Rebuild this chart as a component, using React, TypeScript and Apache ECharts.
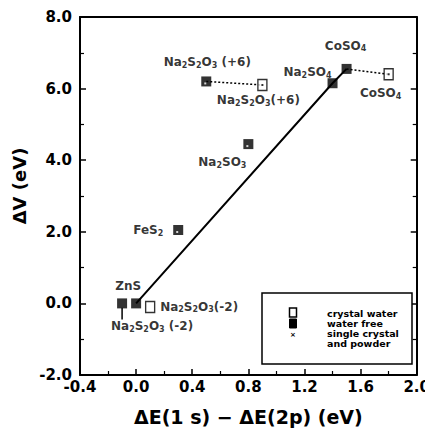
import React, { useEffect, useRef } from "react";
import * as echarts from "echarts";

// ---- data ----
const waterFreeNames = ["Na2S2O3 (-2)", "ZnS", "FeS2", "Na2SO3", "Na2S2O3 (+6)", "Na2SO4", "CoSO4"];
const waterFreeX = [-0.1, 0.0, 0.3, 0.8, 0.5, 1.4, 1.5];
const waterFreeY = [0.0, 0.0, 2.05, 4.45, 6.2, 6.15, 6.55];

const crystalWaterNames = ["Na2S2O3(-2)", "Na2S2O3(+6)", "CoSO4"];
const crystalWaterX = [0.1, 0.9, 1.8];
const crystalWaterY = [-0.1, 6.1, 6.4];

// points that carry the small "single crystal and powder" mark
const singleOnFreeX = [0.3, 0.8, 0.5];
const singleOnFreeY = [2.05, 4.45, 6.2];
const singleOnWaterX = [0.9, 1.8];
const singleOnWaterY = [6.1, 6.4];

const fitLineX = [0.0, 1.4, 1.5];
const fitLineY = [0.0, 6.15, 6.55];

const tieNa2S2O3X = [0.5, 0.9];
const tieNa2S2O3Y = [6.2, 6.1];
const tieCoSO4X = [1.5, 1.8];
const tieCoSO4Y = [6.55, 6.4];

const leaderX = [-0.1, -0.1];
const leaderY = [-0.12, -0.45];

const xTicks = { min: -0.4, max: 2.0, step: 0.4 };
const yTicks = { min: -2, max: 8, step: 2 };

const legendTexts = ["crystal water", "water free", "single crystal", "and powder"];

// ---- styles (kept separate from data) ----
const FONT = "DejaVu Sans";
const freeLabelOffsets: [number, number][] = [
  [30, 23],
  [-8, -17],
  [-30, 0],
  [-26, 18],
  [1, -19],
  [-25, -11],
  [-1, -23],
];
const waterLabelOffsets: [number, number][] = [
  [49, 0],
  [-4, 15],
  [-8, 19],
];

const zip = (xs: number[], ys: number[]) => xs.map((x, i) => [x, ys[i]]);
const toRich = (s: string) => s.replace(/([A-Za-z])(\d)/g, "$1{s|$2}");

const richStyle = {
  s: { fontSize: 8, fontWeight: "bold", fontFamily: FONT, color: "#000", verticalAlign: "bottom", padding: [6, 0, 0, 0] },
};

function labelFor(name: string, offset: [number, number]) {
  return {
    show: true,
    position: "inside",
    offset,
    formatter: toRich(name),
    color: "#000",
    fontSize: 12,
    fontWeight: "bold",
    fontFamily: FONT,
    rich: richStyle,
  };
}

export default function App() {
  const ref = useRef<HTMLDivElement>(null);

  useEffect(() => {
    if (!ref.current) return;
    const chart = echarts.init(ref.current, undefined, { renderer: "svg" });

    const axisCommon = {
      type: "value" as const,
      axisLine: { show: true, onZero: false, lineStyle: { color: "#000", width: 2 } },
      splitLine: { show: false },
    };
    const majorTick = { show: true, inside: true, length: 6, lineStyle: { color: "#000", width: 1.5 } };
    const minorTick = { show: true, splitNumber: 2, length: 4, lineStyle: { color: "#000", width: 1.2 } };

    const option: any = {
      animation: false,
      backgroundColor: "#fff",
      grid: { left: 80, right: 14, top: 17, bottom: 61 },
      xAxis: [
        {
          ...axisCommon,
          position: "bottom",
          min: xTicks.min,
          max: xTicks.max,
          interval: xTicks.step,
          axisTick: majorTick,
          minorTick,
          axisLabel: {
            color: "#000",
            fontSize: 15,
            fontWeight: "bold",
            fontFamily: FONT,
            margin: 4,
            formatter: (v: number) => v.toFixed(1),
          },
          name: "ΔE(1 s) − ΔE(2p) (eV)",
          nameLocation: "middle",
          nameGap: 32,
          nameTextStyle: { color: "#000", fontSize: 19, fontWeight: "bold", fontFamily: FONT },
        },
        {
          ...axisCommon,
          position: "top",
          min: xTicks.min,
          max: xTicks.max,
          interval: xTicks.step,
          axisTick: { show: false },
          axisLabel: { show: false },
        },
      ],
      yAxis: [
        {
          ...axisCommon,
          position: "left",
          min: yTicks.min,
          max: yTicks.max,
          interval: yTicks.step,
          axisTick: majorTick,
          minorTick,
          axisLabel: {
            color: "#000",
            fontSize: 15,
            fontWeight: "bold",
            fontFamily: FONT,
            margin: 8,
            formatter: (v: number) => v.toFixed(1),
          },
          name: "ΔV (eV)",
          nameLocation: "middle",
          nameRotate: 90,
          nameGap: 44,
          nameTextStyle: {
            color: "#000",
            fontSize: 18,
            fontWeight: "bold",
            fontFamily: FONT,
            padding: [0, 0, 0, 20],
          },
        },
        {
          ...axisCommon,
          position: "right",
          min: yTicks.min,
          max: yTicks.max,
          interval: yTicks.step,
          axisTick: majorTick,
          minorTick,
          axisLabel: { show: false },
        },
      ],
      series: [
        {
          name: "fit",
          type: "line",
          data: zip(fitLineX, fitLineY),
          symbol: "none",
          lineStyle: { color: "#000", width: 2 },
          z: 2,
        },
        {
          name: "tie Na2S2O3",
          type: "line",
          data: zip(tieNa2S2O3X, tieNa2S2O3Y),
          symbol: "none",
          lineStyle: { color: "#000", width: 1.5, type: [2, 2] },
          z: 2,
        },
        {
          name: "tie CoSO4",
          type: "line",
          data: zip(tieCoSO4X, tieCoSO4Y),
          symbol: "none",
          lineStyle: { color: "#000", width: 1.5, type: [2, 2] },
          z: 2,
        },
        {
          name: "leader",
          type: "line",
          data: zip(leaderX, leaderY),
          symbol: "none",
          lineStyle: { color: "#000", width: 1.5 },
          z: 2,
        },
        {
          name: "water free",
          type: "scatter",
          symbol: "rect",
          symbolSize: [10, 10],
          itemStyle: { color: "#000" },
          data: waterFreeX.map((x, i) => ({
            value: [x, waterFreeY[i]],
            name: waterFreeNames[i],
            label: labelFor(waterFreeNames[i], freeLabelOffsets[i]),
          })),
          z: 5,
        },
        {
          name: "crystal water",
          type: "scatter",
          symbol: "rect",
          symbolSize: [9, 11],
          itemStyle: { color: "#fff", borderColor: "#000", borderWidth: 1.5 },
          data: crystalWaterX.map((x, i) => ({
            value: [x, crystalWaterY[i]],
            name: crystalWaterNames[i],
            label: labelFor(crystalWaterNames[i], waterLabelOffsets[i]),
          })),
          z: 5,
        },
        {
          name: "single crystal and powder (on water free)",
          type: "scatter",
          symbol: "rect",
          symbolSize: 2,
          symbolOffset: [-1, 2],
          itemStyle: { color: "#fff" },
          data: zip(singleOnFreeX, singleOnFreeY),
          z: 6,
        },
        {
          name: "single crystal and powder (on crystal water)",
          type: "scatter",
          symbol: "rect",
          symbolSize: 2,
          itemStyle: { color: "#000" },
          data: zip(singleOnWaterX, singleOnWaterY),
          z: 6,
        },
      ],
      graphic: [
        {
          type: "rect",
          shape: { x: 262, y: 293, width: 150, height: 71 },
          style: { fill: "#fff", stroke: "#000", lineWidth: 1.5 },
          z: 10,
        },
        {
          type: "rect",
          shape: { x: 289.5, y: 308, width: 7, height: 9 },
          style: { fill: "#fff", stroke: "#000", lineWidth: 1.5 },
          z: 11,
        },
        {
          type: "rect",
          shape: { x: 289.5, y: 319, width: 7, height: 9 },
          style: { fill: "#000", stroke: "#000", lineWidth: 1 },
          z: 11,
        },
        {
          type: "text",
          x: 293,
          y: 335,
          style: { text: "×", fill: "#000", font: `bold 7px ${FONT}`, align: "center", verticalAlign: "middle" },
          z: 11,
        },
        ...legendTexts.map((t, i) => ({
          type: "text",
          x: 327,
          y: 313 + i * 10.3,
          style: {
            text: t,
            fill: "#000",
            font: `bold 9.5px ${FONT}`,
            align: "left",
            verticalAlign: "middle",
          },
          z: 11,
        })),
      ],
    };

    chart.setOption(option);
    return () => chart.dispose();
  }, []);

  return <div ref={ref} style={{ width: 433, height: 436, margin: -8 }} />;
}
